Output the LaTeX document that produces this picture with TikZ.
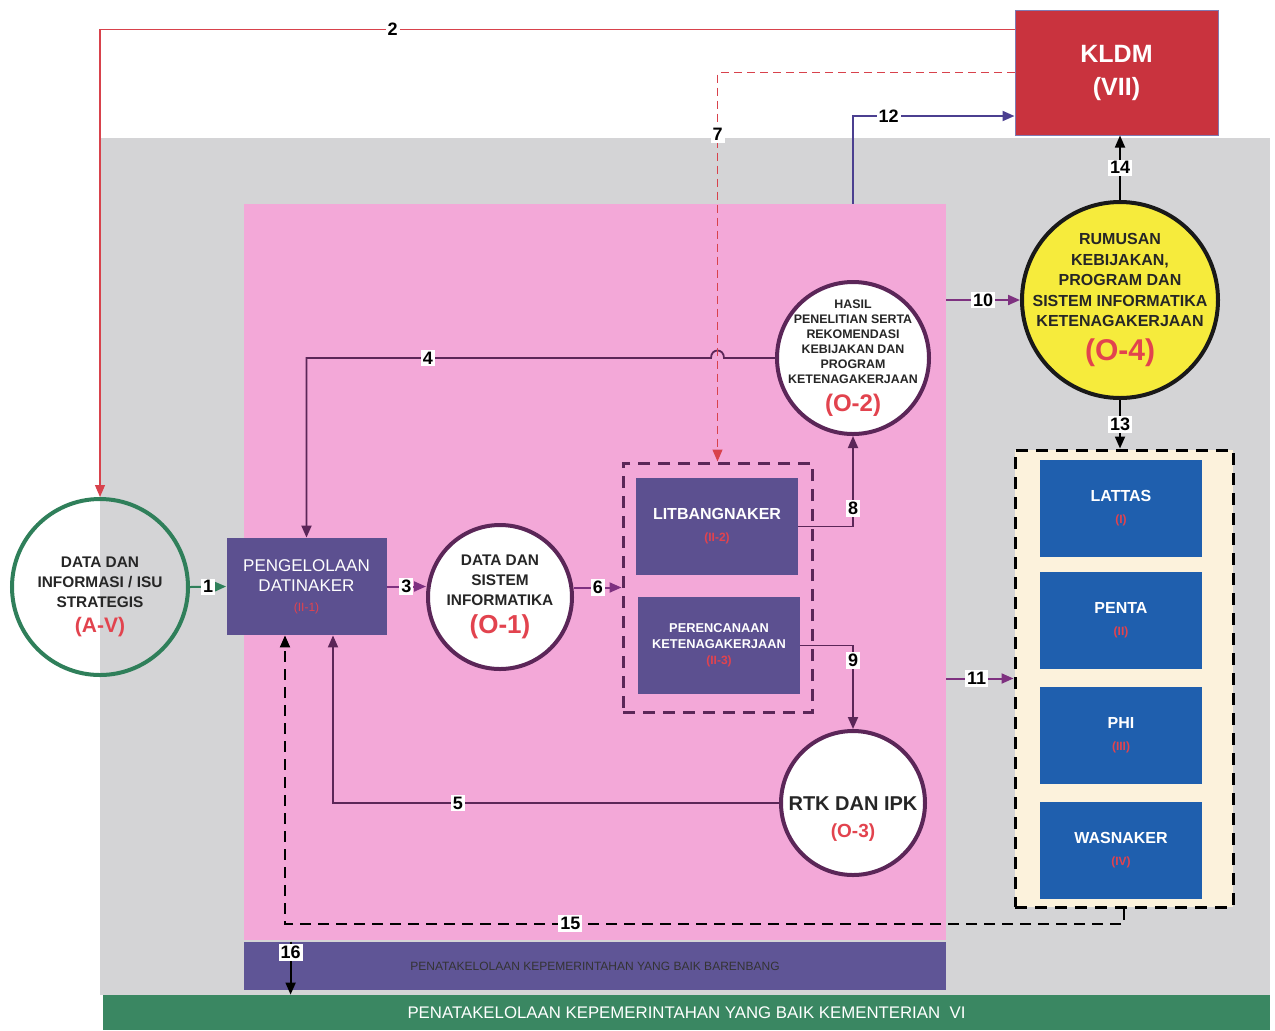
\documentclass[tikz,border=0pt]{standalone}
\usepackage{fontspec}
\setmainfont{Liberation Sans}
\usetikzlibrary{arrows.meta}

\definecolor{greybg}{HTML}{D4D4D6}
\definecolor{pinkbg}{HTML}{F3A8D8}
\definecolor{slate}{HTML}{5C5090}
\definecolor{barbg}{HTML}{5F5596}
\definecolor{greenbar}{HTML}{3A8762}
\definecolor{greenln}{HTML}{2F7F5A}
\definecolor{kldmred}{HTML}{C9333E}
\definecolor{ublue}{HTML}{1F5FAE}
\definecolor{cream}{HTML}{FCF2DC}
\definecolor{plum}{HTML}{5B2658}
\definecolor{arrowpl}{HTML}{7E3180}
\definecolor{codered}{HTML}{E2434E}
\definecolor{linered}{HTML}{D8424C}
\definecolor{indigo}{HTML}{4B3F90}
\definecolor{yell}{HTML}{F6EB3C}

\newcommand{\kode}[2]{{\color{codered}\fontsize{#1}{#1}\selectfont #2}}

\begin{document}
\begin{tikzpicture}[x=0.5pt,y=-0.5pt,>={Triangle[length=6pt,width=5pt]},
	proc/.style={circle,draw=plum,line width=2pt,fill=white,align=center,inner sep=-12pt,text=black!85,font=\bfseries\fontsize{7.7}{10}\selectfont},
	box/.style={rectangle,fill=slate,text=white,align=center,minimum width=80pt,minimum height=48.5pt,inner sep=0pt},
	unit/.style={rectangle,fill=ublue,text=white,align=center,minimum width=81pt,minimum height=48.5pt,inner sep=0pt,font=\bfseries\fontsize{8}{11}\selectfont},
	num/.style={fill=white,inner sep=1pt,text=black,font=\bfseries\fontsize{9}{9}\selectfont}]
		\useasboundingbox (0,0) rectangle (1275,1030);
		\fill[greybg] (100,138) rectangle (1270,995);
		\node[fill=pinkbg,minimum width=351pt,minimum height=368pt,inner sep=0pt] (pink) at (595,572) {};
		\node[fill=barbg,minimum width=351pt,minimum height=24pt,inner sep=0pt,text=black!80,font=\fontsize{6}{6}\selectfont] (bar) at (595,966) {PENATAKELOLAAN KEPEMERINTAHAN YANG BAIK BARENBANG};
		\node[fill=greenbar,minimum width=583.5pt,minimum height=17.5pt,inner sep=0pt,text=white,font=\fontsize{8.4}{8.4}\selectfont] (gbar) at (686.5,1012.5) {PENATAKELOLAAN KEPEMERINTAHAN YANG BAIK KEMENTERIAN~~VI};

		\node[fill=kldmred,draw=indigo!70,line width=0.5pt,text=white,minimum width=101.5pt,minimum height=62.5pt,align=center,font=\bfseries\fontsize{12.5}{16.5}\selectfont] (kldm) at (1116.5,72.5) {KLDM\\(VII)};

		\node[proc,draw=greenln,fill=none,minimum size=88pt] (av) at (100,587) {\rule{0pt}{15pt}DATA DAN\\INFORMASI / ISU\\STRATEGIS\\[2.5pt]\kode{10.5}{(A-V)}};
		\node[box,font=\fontsize{8.5}{10}\selectfont] (dat) at (306.5,586.5) {PENGELOLAAN\\DATINAKER\\\kode{6}{(II-1)}};
		\node[proc,minimum size=72pt] (o1) at (500,597) {DATA DAN\\SISTEM\\INFORMATIKA\\[4pt]\kode{13}{(O-1)}};
		\node[proc,minimum size=76pt,font=\bfseries\fontsize{6.2}{7.5}\selectfont] (o2) at (853,358) {HASIL\\PENELITIAN SERTA\\REKOMENDASI\\KEBIJAKAN DAN\\PROGRAM\\KETENAGAKERJAAN\\[4.5pt]\kode{12}{(O-2)}};
		\node[proc,minimum size=72pt,font=\bfseries\fontsize{10}{13}\selectfont] (o3) at (853,803) {\rule{0pt}{23pt}RTK DAN IPK\\[0.5pt]\kode{9.5}{(O-3)}};
		\node[proc,fill=yell,draw=black!90,minimum size=98pt,font=\bfseries\fontsize{8}{10.25}\selectfont] (o4) at (1120,300) {RUMUSAN\\KEBIJAKAN,\\PROGRAM DAN\\SISTEM INFORMATIKA\\KETENAGAKERJAAN\\[5pt]\kode{15}{(O-4)}};

		\node[draw=plum,line width=1.5pt,dash pattern=on 6pt off 4pt,minimum width=94.5pt,minimum height=124.5pt] (grp) at (717.5,587.5) {};
		\node[box,minimum width=81pt,font=\bfseries\fontsize{8}{11}\selectfont] (lit) at (717,526.5) {LITBANGNAKER\\\kode{6}{(II-2)}};
		\node[box,minimum width=81pt,font=\bfseries\fontsize{6.4}{8}\selectfont] (per) at (719,645.5) {PERENCANAAN\\KETENAGAKERJAAN\\\kode{6}{(II-3)}};

		\node[fill=cream,draw=black,line width=1.5pt,dash pattern=on 6pt off 4pt,minimum width=109pt,minimum height=228.5pt] (unit) at (1124,678.5) {};
		\node[unit] (u1) at (1121,508.5) {LATTAS\\\kode{6}{(I)}};
		\node[unit] (u2) at (1121,620.5) {PENTA\\\kode{6}{(II)}};
		\node[unit] (u3) at (1121,735.5) {PHI\\\kode{6}{(III)}};
		\node[unit] (u4) at (1121,850.5) {WASNAKER\\\kode{6}{(IV)}};

		\draw[->,greenln,line width=1pt] (av.east) -- (dat.west) node[num,midway] {1};
		\draw[->,linered,line width=0.6pt] (kldm.north west) ++(0,20) -| (av.north) node[num,pos=0.34] {2};
		\draw[->,arrowpl,line width=1pt] (dat.east) -- (dat.east -| o1.west) node[num,midway] {3};
		\draw[->,plum,line width=0.9pt] (o2.west) -- (724,358) .. controls (724,348) and (711,348) .. (711,358) -| (dat.north) node[num,pos=0.35] {4};
		\draw[->,plum,line width=0.9pt] (o3.west) -| ([xshift=13.25pt]dat.south) node[num,pos=0.36] {5};
		\draw[->,arrowpl,line width=1pt] (o1.east |- grp.west) -- (grp.west) node[num,midway] {6};
		\draw[->,linered,line width=0.6pt,dash pattern=on 4pt off 2.5pt] (kldm.west) -| (grp.north) node[num,pos=0.58] {7};
		\draw[->,plum,line width=0.9pt] (lit.east) -| (o2.south) node[num,pos=0.6] {8};
		\draw[->,plum,line width=0.9pt] (per.east) -| (o3.north) node[num,pos=0.59] {9};
		\draw[->,arrowpl,line width=1pt] (pink.east |- o4) -- (o4) node[num,pos=0.5] {10};
		\draw[->,arrowpl,line width=1pt] (pink.east |- unit) -- (unit) node[num,pos=0.45] {11};
		\draw[->,indigo,line width=1pt] (pink.north -| o2) |- ([yshift=-21.75pt]kldm.west) node[num,pos=0.61] {12};
		\draw[->,black,line width=0.9pt] (o4.south) -- (o4.south |- unit.north) node[num,midway] {13};
		\draw[->,black,line width=0.9pt] (o4.north) -- (o4.north |- kldm.south) node[num,midway] {14};
		\draw[->,black,line width=1pt,dash pattern=on 5.5pt off 3.5pt] (unit.south) -- ++(0,15) -| ([xshift=-10.75pt]dat.south) node[num,pos=0.33] {15};
		\coordinate (b16) at ([xshift=23.5pt]bar.north west);
		\draw[->,black,line width=0.9pt] (b16) -- (b16 |- gbar.north) node[num,pos=0.2] {16};
	\end{tikzpicture}
\end{document}
